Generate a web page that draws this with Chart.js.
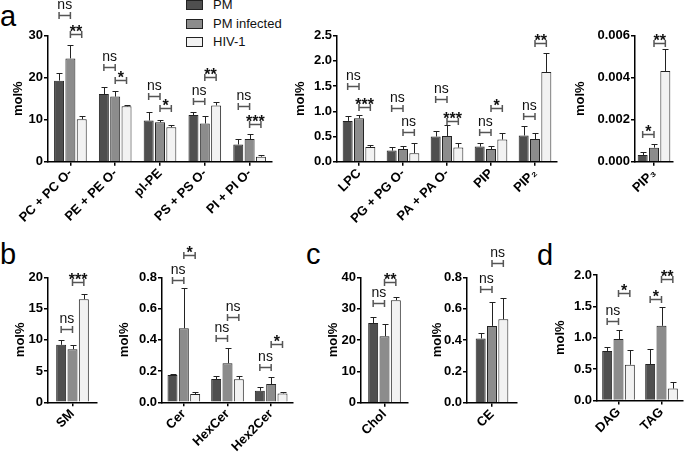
<!DOCTYPE html>
<html>
<head>
<meta charset="utf-8">
<script src="https://cdn.jsdelivr.net/npm/chart.js@4.4.1/dist/chart.umd.min.js"></script>
<style>
  body { margin: 0; background: #fff; width: 685px; height: 454px; position: relative; overflow: hidden; font-family: Arial, "Liberation Sans", sans-serif; }
  canvas { position: absolute; left: 0; top: 0; }
  .tag { position: absolute; font-size: 29px; line-height: 1; color: #000; }
  .leg { position: absolute; left: 186px; font-size: 13px; color: #111; }
  .leg i { position: absolute; left: 0; width: 17px; height: 10px; border: 1px solid #222; box-sizing: border-box; }
  .leg span { position: absolute; left: 27px; white-space: nowrap; line-height: 14px; }
</style>
</head>
<body>

<div class="tag" style="left:0px;top:2px">a</div>
<div class="tag" style="left:0px;top:240px">b</div>
<div class="tag" style="left:306px;top:240px">c</div>
<div class="tag" style="left:537px;top:241px">d</div>

<div class="leg" style="top:0px"><i style="background:#4f4f4f"></i><span style="top:-2px">PM</span></div>
<div class="leg" style="top:19px"><i style="background:#8c8c8c"></i><span style="top:-2px">PM infected</span></div>
<div class="leg" style="top:37px"><i style="background:#f2f2f2"></i><span style="top:-2px">HIV-1</span></div>

<canvas id="a1" width="685" height="454"></canvas>
<canvas id="a2" width="685" height="454"></canvas>
<canvas id="a3" width="685" height="454"></canvas>
<canvas id="b1" width="685" height="454"></canvas>
<canvas id="b2" width="685" height="454"></canvas>
<canvas id="c1" width="685" height="454"></canvas>
<canvas id="c2" width="685" height="454"></canvas>
<canvas id="d1" width="685" height="454"></canvas>

<script>
// --- data (mol%), mean and upper error per group ---
const seriesNames = ['PM', 'PM infected', 'HIV-1'];
const seriesColors = ['#4f4f4f', '#8c8c8c', '#f2f2f2'];

// a: phospholipids
const catsA1 = ['PC + PC O-', 'PE + PE O-', 'pl-PE', 'PS + PS O-', 'PI + PI O-'];
const pmA1 = [19.3, 16.1, 9.8, 11.1, 4.1];
const infA1 = [24.6, 15.5, 9.4, 9.1, 5.4];
const hivA1 = [10.1, 13.2, 8.2, 13.4, 1.2];
const pmErrA1 = [1.9, 1.8, 2.0, 0.8, 1.3];
const infErrA1 = [3.2, 1.4, 0.6, 1.7, 1.3];
const hivErrA1 = [0.7, 0.4, 0.5, 0.8, 0.5];
const sigA1 = [[0, 0, 1, 34.9, 'ns'], [0, 1, 2, 30.5, '**'], [1, 0, 1, 22.5, 'ns'], [1, 1, 2, 19.5, '*'],
  [2, 0, 1, 15.6, 'ns'], [2, 1, 2, 12.7, '*'], [3, 0, 1, 14.5, 'ns'], [3, 1, 2, 20.2, '**'],
  [4, 0, 1, 13.3, 'ns'], [4, 1, 2, 8.9, '***']];

const catsA2 = ['LPC', 'PG + PG O-', 'PA + PA O-', 'PIP', 'PIP₂'];
const pmA2 = [0.81, 0.22, 0.50, 0.30, 0.52];
const infA2 = [0.86, 0.25, 0.51, 0.25, 0.45];
const hivA2 = [0.29, 0.17, 0.28, 0.44, 1.78];
const pmErrA2 = [0.10, 0.08, 0.11, 0.08, 0.19];
const infErrA2 = [0.07, 0.06, 0.21, 0.06, 0.11];
const hivErrA2 = [0.04, 0.21, 0.10, 0.13, 0.37];
const sigA2 = [[0, 0, 1, 1.50, 'ns'], [0, 1, 2, 1.09, '***'], [1, 0, 1, 1.06, 'ns'], [1, 1, 2, 0.59, 'ns'],
  [2, 0, 1, 1.24, 'ns'], [2, 1, 2, 0.81, '***'], [3, 0, 1, 0.58, 'ns'], [3, 1, 2, 1.07, '*'],
  [4, 0, 1, 0.90, 'ns'], [4, 1, 2, 2.35, '**']];

const catsA3 = ['PIP₃'];
const pmA3 = [0.00032];
const infA3 = [0.00067];
const hivA3 = [0.00432];
const pmErrA3 = [0.00013];
const infErrA3 = [0.00017];
const hivErrA3 = [0.00103];
const sigA3 = [[0, 0, 1, 0.0013, '*'], [0, 1, 2, 0.00567, '**']];

// b: sphingolipids
const catsB1 = ['SM'];
const pmB1 = [9.2];
const infB1 = [8.5];
const hivB1 = [16.5];
const pmErrB1 = [0.8];
const infErrB1 = [0.6];
const hivErrB1 = [0.8];
const sigB1 = [[0, 0, 1, 11.7, 'ns'], [0, 1, 2, 19.3, '***']];

const catsB2 = ['Cer', 'HexCer', 'Hex2Cer'];
const pmB2 = [0.175, 0.149, 0.074];
const infB2 = [0.474, 0.25, 0.117];
const hivB2 = [0.053, 0.147, 0.057];
const pmErrB2 = [0.005, 0.02, 0.026];
const infErrB2 = [0.26, 0.095, 0.043];
const hivErrB2 = [0.015, 0.02, 0.011];
const sigB2 = [[0, 0, 1, 0.783, 'ns'], [0, 1, 2, 0.943, '*'], [1, 0, 1, 0.41, 'ns'], [1, 1, 2, 0.544, 'ns'],
  [2, 0, 1, 0.228, 'ns'], [2, 1, 2, 0.371, '*']];

// c: sterols
const catsC1 = ['Chol'];
const pmC1 = [25.4];
const infC1 = [21.2];
const hivC1 = [32.7];
const pmErrC1 = [2.0];
const infErrC1 = [4.0];
const hivErrC1 = [1.1];
const sigC1 = [[0, 0, 1, 31.7, 'ns'], [0, 1, 2, 38.6, '**']];

const catsC2 = ['CE'];
const pmC2 = [0.41];
const infC2 = [0.49];
const hivC2 = [0.532];
const pmErrC2 = [0.033];
const infErrC2 = [0.155];
const hivErrC2 = [0.134];
const sigC2 = [[0, 0, 1, 0.723, 'ns'], [0, 1, 2, 0.889, 'ns']];

// d: glycerolipids
const catsD = ['DAG', 'TAG'];
const pmD = [0.79, 0.58];
const infD = [0.98, 1.19];
const hivD = [0.57, 0.19];
const pmErrD = [0.07, 0.24];
const infErrD = [0.14, 0.30];
const hivErrD = [0.23, 0.10];
const sigD = [[0, 0, 1, 1.27, 'ns'], [0, 1, 2, 1.71, '*'], [1, 0, 1, 1.61, '*'], [1, 1, 2, 1.94, '**']];

// error bars + significance brackets
const errSig = {
  id: 'errSig',
  afterDatasetsDraw(chart, args, opts) {
    const ctx = chart.ctx;
    const y = chart.scales.y;
    ctx.save();
    ctx.strokeStyle = '#222';
    ctx.lineWidth = 1;
    opts.errs.forEach((errs, d) => {
      chart.getDatasetMeta(d).data.forEach((bar, i) => {
        const v = chart.data.datasets[d].data[i];
        const top = Math.round(y.getPixelForValue(v + errs[i])) + 0.5;
        const x = Math.round(bar.x) + 0.5;
        ctx.beginPath();
        ctx.moveTo(x, bar.y);
        ctx.lineTo(x, top);
        ctx.moveTo(x - 3, top);
        ctx.lineTo(x + 3, top);
        ctx.stroke();
      });
    });
    opts.sig.forEach(([c, a, b, v, t]) => {
      const x1 = chart.getDatasetMeta(a).data[c].x;
      const x2 = chart.getDatasetMeta(b).data[c].x;
      const py = Math.round(y.getPixelForValue(v)) + 0.5;
      ctx.strokeStyle = '#555';
      ctx.lineWidth = 1.5;
      ctx.beginPath();
      ctx.moveTo(x1, py - 3.5); ctx.lineTo(x1, py + 3.5);
      ctx.moveTo(x1, py); ctx.lineTo(x2, py);
      ctx.moveTo(x2, py - 3.5); ctx.lineTo(x2, py + 3.5);
      ctx.stroke();
      ctx.fillStyle = '#111';
      ctx.textAlign = 'center';
      ctx.textBaseline = 'alphabetic';
      if (t === 'ns') {
        ctx.font = '14px Arial, "Liberation Sans"';
        ctx.fillText(t, (x1 + x2) / 2, py - 7);
      } else {
        ctx.font = 'bold 16px Arial, "Liberation Sans"';
        ctx.fillText(t, (x1 + x2) / 2, py + 2);
      }
    });
    ctx.restore();
  }
};

const XH = 70;
const fontFam = 'Arial, "Liberation Sans", "Noto Sans", "DejaVu Sans"';

function panel(id, g, cats, pm, inf, hiv, errs, sig, yMax, yStep, dec) {
  const padLeft = g.tx - 11.8;
  const catW = (g.r - g.l) / cats.length;
  const vals = [pm, inf, hiv];
  new Chart(document.getElementById(id), {
    type: 'bar',
    data: {
      labels: cats,
      datasets: vals.map((v, k) => ({
        label: seriesNames[k],
        data: v,
        backgroundColor: seriesColors[k],
        borderColor: '#222',
        borderWidth: 1,
        borderSkipped: 'bottom',
        categoryPercentage: 34 / catW,
        barPercentage: 0.88
      }))
    },
    options: {
      responsive: false,
      animation: false,
      events: [],
      layout: { padding: { left: padLeft, top: g.t, right: 685 - g.r, bottom: 454 - g.b - XH } },
      plugins: {
        legend: { display: false },
        tooltip: { enabled: false },
        errSig: { errs: errs, sig: sig }
      },
      scales: {
        x: {
          offset: true,
          afterFit: s => { s.height = XH; },
          grid: { offset: false, drawOnChartArea: false, tickLength: 4, color: '#000', lineWidth: 1.5 },
          border: { color: '#000', width: 1.5 },
          ticks: { color: '#000', font: { family: fontFam, size: 13, weight: 'bold' },
                   minRotation: 45, maxRotation: 45, autoSkip: false, padding: 0 }
        },
        y: {
          min: 0,
          max: yMax,
          afterFit: s => { s.width = g.l - padLeft; },
          grid: { drawOnChartArea: false, tickLength: 4, color: '#000', lineWidth: 1.5 },
          border: { color: '#000', width: 1.5 },
          ticks: { stepSize: yStep, color: '#000', padding: 1,
                   font: { family: fontFam, size: 13, weight: 'bold' },
                   callback: v => Number(v).toFixed(dec) },
          title: { display: true, text: 'mol%', color: '#000',
                   font: { family: fontFam, size: 13, weight: 'bold' },
                   padding: { top: 4, bottom: 4 } }
        }
      }
    },
    plugins: [errSig]
  });
}

panel('a1', { l: 48, r: 272, t: 35.7, b: 161.7, tx: 18 }, catsA1, pmA1, infA1, hivA1, [pmErrA1, infErrA1, hivErrA1], sigA1, 30, 10, 0);
panel('a2', { l: 337, r: 557, t: 35.7, b: 161.7, tx: 300 }, catsA2, pmA2, infA2, hivA2, [pmErrA2, infErrA2, hivErrA2], sigA2, 2.5, 0.5, 1);
panel('a3', { l: 635, r: 673, t: 35.7, b: 161.7, tx: 580 }, catsA3, pmA3, infA3, hivA3, [pmErrA3, infErrA3, hivErrA3], sigA3, 0.006, 0.002, 3);
panel('b1', { l: 48, r: 97, t: 277.3, b: 402.3, tx: 20 }, catsB1, pmB1, infB1, hivB1, [pmErrB1, infErrB1, hivErrB1], sigB1, 20, 5, 0);
panel('b2', { l: 162, r: 293, t: 277.3, b: 402.3, tx: 124 }, catsB2, pmB2, infB2, hivB2, [pmErrB2, infErrB2, hivErrB2], sigB2, 0.8, 0.2, 1);
panel('c1', { l: 361, r: 408, t: 277.3, b: 402.7, tx: 333 }, catsC1, pmC1, infC1, hivC1, [pmErrC1, infErrC1, hivErrC1], sigC1, 40, 10, 0);
panel('c2', { l: 467, r: 517, t: 277.3, b: 402.7, tx: 437 }, catsC2, pmC2, infC2, hivC2, [pmErrC2, infErrC2, hivErrC2], sigC2, 0.8, 0.2, 1);
panel('d1', { l: 597, r: 683, t: 275, b: 400.5, tx: 560 }, catsD, pmD, infD, hivD, [pmErrD, infErrD, hivErrD], sigD, 2.0, 0.5, 1);
</script>
</body>
</html>
